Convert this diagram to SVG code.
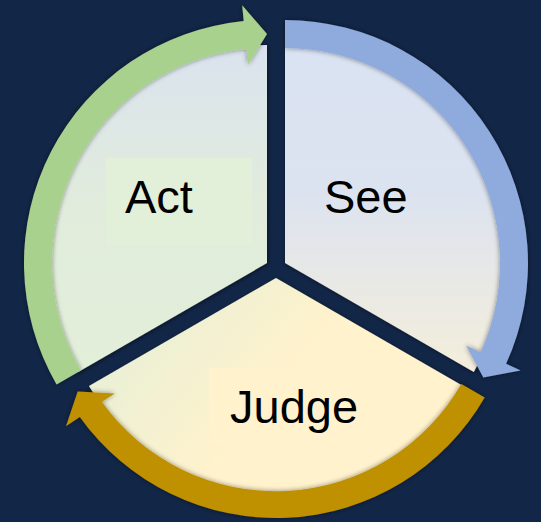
<svg xmlns="http://www.w3.org/2000/svg" width="541" height="522" viewBox="0 0 541 522">
  <defs>
    <style>
      .lbl { font-family: "Liberation Sans", Arial, sans-serif; font-size: 47px; fill: #000000; }
      .sector { filter: url(#secShadow); }
      .band { filter: url(#bandShadow); }
    </style>
    <filter id="secShadow" x="-10%" y="-10%" width="120%" height="120%">
      <feDropShadow dx="1" dy="1" stdDeviation="2" flood-color="#000000" flood-opacity="0.5"/>
    </filter>
    <filter id="bandShadow" x="-10%" y="-10%" width="120%" height="120%">
      <feDropShadow dx="0" dy="0" stdDeviation="2.5" flood-color="#000000" flood-opacity="0.45"/>
    </filter>
    <linearGradient id="gAct" gradientUnits="userSpaceOnUse" x1="0" y1="45" x2="0" y2="372">
      <stop offset="0" stop-color="#dae3ee"/>
      <stop offset="0.5" stop-color="#e1ecdc"/>
      <stop offset="1" stop-color="#e2efd9"/>
    </linearGradient>
    <linearGradient id="gSee" gradientUnits="userSpaceOnUse" x1="0" y1="45" x2="0" y2="372">
      <stop offset="0" stop-color="#dae3f3"/>
      <stop offset="0.45" stop-color="#dce3f0"/>
      <stop offset="1" stop-color="#f4eedb"/>
    </linearGradient>
    <linearGradient id="gJudge" gradientUnits="userSpaceOnUse" x1="90" y1="290" x2="250" y2="420">
      <stop offset="0" stop-color="#e2efd9"/>
      <stop offset="1" stop-color="#fff2cc"/>
    </linearGradient>
  </defs>

  <rect x="0" y="0" width="541" height="522" fill="#122647"/>

  <g id="node-act">
    <path class="sector" d="M267,263 L78.21,372 A218,218 0 0 1 267,45 Z" fill="url(#gAct)"/>
    <rect x="106" y="158" width="146" height="88" fill="#e2efd9"/>
    <text class="lbl" x="125" y="213">Act</text>
  </g>

  <g id="node-see">
    <path class="sector" d="M285,263 L285,45 A218,218 0 0 1 473.79,372 Z" fill="url(#gSee)"/>
    <rect x="305" y="158" width="169" height="88" fill="url(#gSee)"/>
    <text class="lbl" x="324" y="213">See</text>
  </g>

  <g id="node-judge">
    <path class="sector" d="M276,278 L463.06,386 A216,216 0 0 1 88.94,386 Z" fill="url(#gJudge)"/>
    <rect x="209" y="368" width="190" height="78" fill="#fff2cc"/>
    <text class="lbl" x="230" y="423">Judge</text>
  </g>

  <g id="connectors">
    <path class="band" fill="#a9d18e" d="M56.56,384.5 A243,243 0 0 1 243.71,21.12 L242.17,5.19 L267,34 L247.93,64.92 L246.39,48.99 A215,215 0 0 0 80.81,370.5 Z"/>
    <path class="band" fill="#8faadc" d="M285,20 A243,243 0 0 1 506.12,363.77 L520.68,370.4 L483.32,377.5 L466.08,345.52 L480.64,352.16 A215,215 0 0 0 285,48 Z"/>
    <path class="band" fill="#bf9000" d="M484.71,397.5 A241,241 0 0 1 79.8,416.96 L65.98,426.32 L77.68,391.5 L114.8,393.4 L101.78,401.7 A214,214 0 0 0 461.33,384 Z"/>
  </g>
</svg>
